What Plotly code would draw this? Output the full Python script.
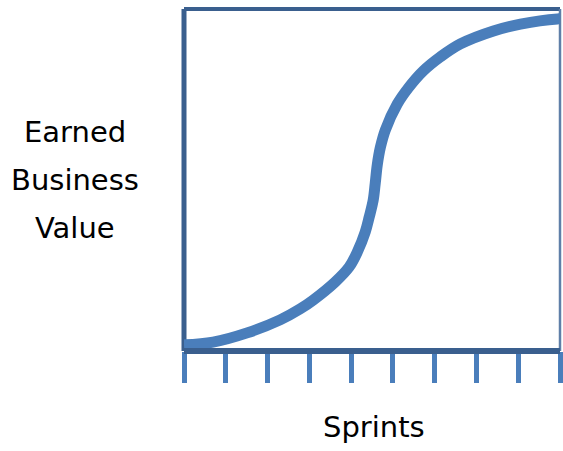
import plotly.graph_objects as go

# Data
sprints = [0, 0.695, 1.510, 2.301, 2.780, 3.092, 3.619, 3.955, 4.147, 4.338, 4.434, 4.530,
           4.578, 4.626, 4.698, 4.818, 5.105, 5.369, 5.728, 6.136, 6.616, 7.407, 8.054,
           8.941, 9.0]
value = [0.018, 0.026, 0.053, 0.091, 0.123, 0.149, 0.202, 0.246, 0.289, 0.348, 0.392, 0.442,
         0.491, 0.544, 0.594, 0.646, 0.722, 0.769, 0.819, 0.860, 0.898, 0.936, 0.956,
         0.971, 0.971]
tick_positions = list(range(10))
y_title_lines = ["Earned", "Business", "Value"]
x_title = "Sprints"

CURVE = "#4A7EBB"
FRAME = "#3A5F8E"
FONT = "DejaVu Sans"

W, H = 563, 451
L, R, T, B = 184, 3, 9, 100
pw = W - L - R
ph = H - T - B

def px_to_paper(px):
    return (px - L) / pw

def py_to_paper(py):
    return (H - B - py) / ph

fig = go.Figure()
fig.add_trace(go.Scatter(
    x=sprints, y=value, mode="lines",
    line=dict(color=CURVE, width=11, shape="spline", smoothing=1.0),
    hoverinfo="skip", showlegend=False,
))

shapes = [
    dict(type="line", xref="paper", yref="paper", x0=0, x1=0, y0=0, y1=1,
         line=dict(color=FRAME, width=5), layer="below"),
    dict(type="line", xref="paper", yref="paper", x0=0, x1=1, y0=1, y1=1,
         line=dict(color=FRAME, width=4), layer="below"),
    dict(type="line", xref="paper", yref="paper", x0=1, x1=1, y0=0, y1=1,
         line=dict(color="#5F7FA8", width=2.5), layer="below"),
    dict(type="line", xref="paper", yref="paper", x0=0, x1=1, y0=0, y1=0,
         line=dict(color=FRAME, width=6), layer="above"),
]

annotations = []
for txt, py in zip(y_title_lines, [132, 180, 228]):
    annotations.append(dict(
        text=txt, xref="paper", yref="paper",
        x=px_to_paper(75), y=py_to_paper(py),
        xanchor="center", yanchor="middle", showarrow=False,
        font=dict(family=FONT, size=29, color="#000000"),
    ))
annotations.append(dict(
    text=x_title, xref="paper", yref="paper",
    x=px_to_paper(374), y=py_to_paper(427),
    xanchor="center", yanchor="middle", showarrow=False,
    font=dict(family=FONT, size=29, color="#000000"),
))

fig.update_layout(
    width=W, height=H,
    margin=dict(l=L, r=R, t=T, b=B, pad=0),
    paper_bgcolor="white", plot_bgcolor="white",
    shapes=shapes, annotations=annotations,
    xaxis=dict(range=[0, 9], tickvals=tick_positions, showticklabels=False,
               ticks="outside", ticklen=31, tickwidth=5, tickcolor=CURVE,
               showgrid=False, zeroline=False, showline=False, fixedrange=True),
    yaxis=dict(range=[0, 1], showticklabels=False, ticks="", showgrid=False,
               zeroline=False, showline=False, fixedrange=True),
)

fig.write_html(
    "out.html",
    config={"displayModeBar": False, "staticPlot": True},
    post_script="document.body.style.margin='0';document.body.style.overflow='hidden';",
)
